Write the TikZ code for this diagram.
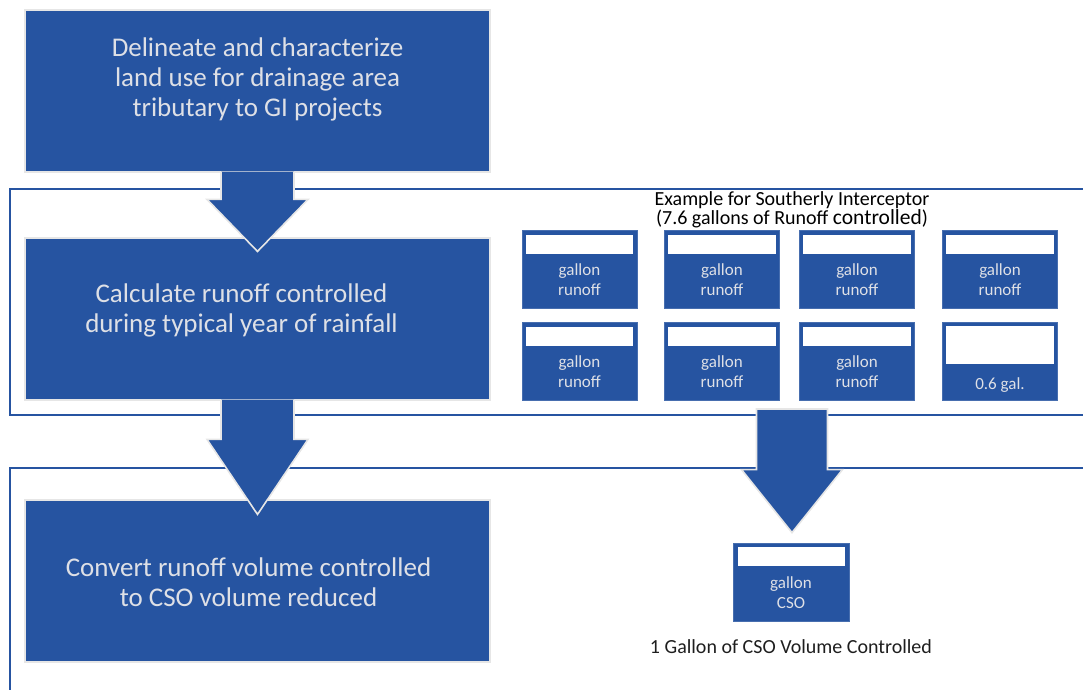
\documentclass[tikz,border=0pt]{standalone}
\usepackage{fontspec}
\setmainfont{Carlito}
\usetikzlibrary{calc}
\definecolor{gblue}{RGB}{38,84,161}
\definecolor{btext}{RGB}{222,224,230}
\definecolor{edgegray}{RGB}{230,230,230}
\definecolor{captext}{RGB}{30,30,30}
\newcommand\blockarrow[6]{%
  \path[#6] let \p1=(#1), \p2=(#2) in
    (\x1-#3pt,\y1) -- (\x1-#3pt,\y2+#5pt) -- (\x1-#4pt,\y2+#5pt) -- (\x2,\y2)
    -- (\x1+#4pt,\y2+#5pt) -- (\x1+#3pt,\y2+#5pt) -- (\x1+#3pt,\y1);}
\newcommand\blockarrowclosed[6]{%
  \path[#6] let \p1=(#1), \p2=(#2) in
    (\x1-#3pt,\y1) -- (\x1-#3pt,\y2+#5pt) -- (\x1-#4pt,\y2+#5pt) -- (\x2,\y2)
    -- (\x1+#4pt,\y2+#5pt) -- (\x1+#3pt,\y2+#5pt) -- (\x1+#3pt,\y1) -- cycle;}
\begin{document}
\begin{tikzpicture}[x=1pt,y=-1pt,
  frame/.style={draw=gblue, line width=2.6pt},
  bigbox/.style={draw=edgegray, line width=1.2pt, fill=gblue, minimum width=465pt, minimum height=162pt, inner sep=0pt},
  bigtext/.style={text=btext, align=center, font=\fontsize{27}{30}\selectfont},
  sbox/.style={draw=gblue!85!white, line width=0.8pt, fill=gblue, minimum width=115pt, minimum height=78pt, inner sep=0pt},
  stext/.style={text=btext, align=center, font=\fontsize{17}{20}\selectfont},
  barrow/.style={fill=gblue, draw=edgegray, line width=1.6pt, line join=miter},
  titletext/.style={text=black, align=center, font=\fontsize{20}{17}\selectfont},
  captext/.style={text=captext, font=\fontsize{20}{20}\selectfont}
]
\useasboundingbox (0,0) rectangle (1083,689);
% frames
\draw[frame] (10,189) rectangle (1100,415);
\draw[frame] (10,468) rectangle (1100,710);
% big boxes
\node[bigbox] (b1) at (257.5,91) {};
\node[bigbox] (b2) at (257.5,319) {};
\node[bigbox] (b3) at (257.5,581) {};
\node[bigtext] (t1) at ($(b1.center)+(0,-12)$) {Delineate and characterize\\land use for drainage area\\tributary to GI projects};
\node[bigtext] (t2) at ($(b2.center)+(-16,-9)$) {Calculate runoff controlled\\during typical year of rainfall};
\node[bigtext] (t3) at ($(b3.center)+(-9,1)$) {Convert runoff volume controlled\\to CSO volume reduced};
% title
\node[titletext] (title) at (792,210) {Example for Southerly Interceptor\\(7.6 gallons of Runoff {\fontsize{21.5}{17}\selectfont controlled})};
% small boxes
\foreach \c/\xx in {1/579.5,2/722,3/857,4/1000}{
  \node[sbox] (s1\c) at (\xx,269) {};
  \node[sbox] (s2\c) at (\xx,361) {};
}
\foreach \n in {s11,s12,s13,s14,s21,s22,s23}{
  \fill[white] ($(\n.north west)+(4,5)$) rectangle ($(\n.north east)+(-4,24)$);
  \node[stext] (\n-t) at ($(\n.center)+(0,11)$) {gallon\\runoff};
}
\fill[white] ($(s24.north west)+(4,4)$) rectangle ($(s24.north east)+(-4,42)$);
\node[stext] (s24-t) at ($(s24.center)+(0,24)$) {0.6 gal.};
% CSO box
\node[sbox, minimum width=116pt] (cso) at (791,582) {};
\fill[white] ($(cso.north west)+(5,4)$) rectangle ($(cso.north east)+(-4,23)$);
\node[stext] (cso-t) at ($(cso.center)+(0,10.5)$) {gallon\\CSO};
\node[captext] (cap) at (791,647) {1 Gallon of CSO Volume Controlled};
% block arrows
\coordinate (a1s) at ($(b1.south)+(0,-1)$);
\coordinate (a1e) at ($(b2.north)+(0,14)$);
\blockarrow{a1s}{a1e}{36.5}{50.5}{52}{barrow}
\coordinate (a2s) at ($(b2.south)+(0,-1)$);
\coordinate (a2e) at ($(b3.north)+(0,15)$);
\blockarrow{a2s}{a2e}{36.5}{50.5}{75}{barrow}
\coordinate (a3s) at (792,409);
\coordinate (a3e) at ($(cso.north)+(1,-10)$);
\blockarrowclosed{a3s}{a3e}{35.5}{50.5}{63}{barrow}
\end{tikzpicture}
\end{document}
